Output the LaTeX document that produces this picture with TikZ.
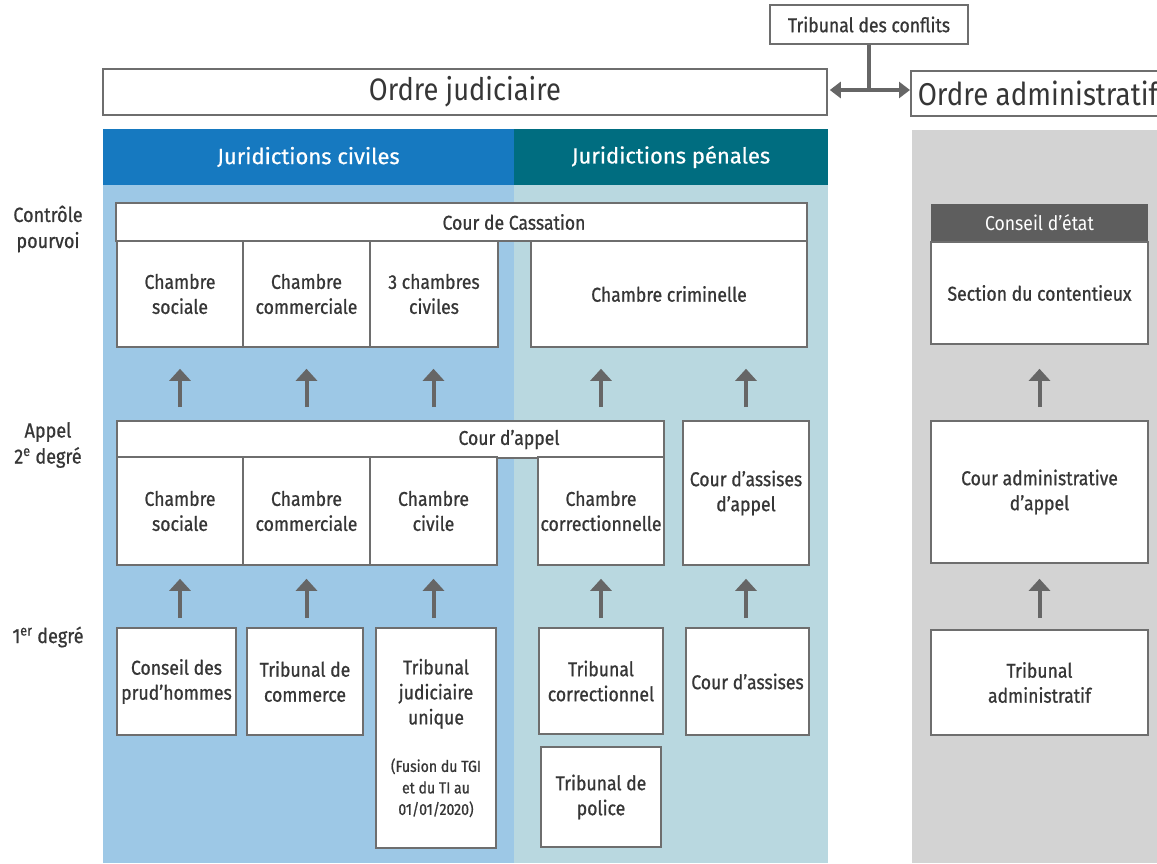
\documentclass[tikz,border=0pt]{standalone}
\usepackage{fontspec}
\setmainfont{Fira Sans}[FakeStretch=0.88, FakeBold=0.8]
\newfontfamily\plainfont{Fira Sans}[FakeStretch=0.88]
\newfontfamily\widefont{Fira Sans}[FakeBold=0.6]
\usetikzlibrary{arrows.meta}
\definecolor{civblue}{HTML}{1679C0}
\definecolor{penblue}{HTML}{006D80}
\definecolor{civbg}{HTML}{9DC8E6}
\definecolor{penbg}{HTML}{B9D8E0}
\definecolor{admbg}{HTML}{D3D3D3}
\definecolor{boxgray}{HTML}{6E6E6E}
\definecolor{arrgray}{HTML}{666666}
\definecolor{cegray}{HTML}{5E5E5E}
\definecolor{txtgray}{HTML}{363636}

\begin{document}
\begin{tikzpicture}
          [x=1pt,y=-1pt,
           box/.style={draw=boxgray, line width=1.6pt, fill=white, align=center, inner sep=0pt,
                       text=txtgray, font=\fontsize{20}{25}\selectfont},
           head/.style={fill=#1, text=white, inner sep=0pt, font=\widefont\fontsize{22}{26}\selectfont},
           side/.style={align=center, text=txtgray, font=\fontsize{20.5}{26}\selectfont},
           up1/.style={draw=arrgray, line width=4pt, -{Triangle[width=21pt,length=12pt]},
                       shorten <=13pt, shorten >=21pt},
           up2/.style={draw=arrgray, line width=4pt, -{Triangle[width=21pt,length=12pt]},
                       shorten <=9pt, shorten >=13pt},
           link/.style={draw=arrgray, line width=3.5pt}]

          \useasboundingbox (0,0) rectangle (1157,863);

          \fill[civbg] (103,185) rectangle (514,863);
          \fill[penbg] (514,185) rectangle (828,863);
          \fill[admbg] (912,130) rectangle (1157,863);

          \node[box, minimum width=198pt, minimum height=39pt] (conflits) at (869,24.5) {Tribunal des conflits};
          \node[box, minimum width=724pt, minimum height=46pt, font=\plainfont\fontsize{31}{34}\selectfont] (judic) at (465,92) {Ordre judiciaire};
          \node[box, anchor=west, minimum height=45pt, text width=250pt, align=flush left, inner xsep=7pt,
                font=\plainfont\fontsize{31.5}{34}\selectfont] (admin) at (910,93.5) {Ordre administratif};

          \node[head=civblue, minimum width=411pt, minimum height=56pt] (hciv) at (308.5,157) {Juridictions civiles};
          \node[head=penblue, minimum width=314pt, minimum height=56pt] (hpen) at (671,157) {Juridictions pénales};

          \node[side] (lctrl) at (48,229) {Contrôle\\pourvoi};
          \node[side] (lappel) at (48,445) {Appel\\2\textsuperscript{e} degré};
          \node[side] (lpremier) at (48,637) {1\textsuperscript{er} degré};

          \node[box, minimum width=691pt, minimum height=38pt,
                label={[text=txtgray, xshift=52.5pt, font=\fontsize{20}{25}\selectfont]center:Cour de Cassation}] (cass) at (461.5,222) {};
          \node[box, minimum width=126pt, minimum height=106pt] (csC) at (180,294) {Chambre\\sociale};
          \node[box, minimum width=127pt, minimum height=106pt] (ccC) at (306.5,294) {Chambre\\commerciale};
          \node[box, minimum width=128pt, minimum height=106pt] (civC) at (434,294) {3 chambres\\civiles};
          \node[box, minimum width=276pt, minimum height=106pt] (crimC) at (669,294) {Chambre criminelle};

          \node[box, minimum width=547pt, minimum height=37pt,
                label={[text=txtgray, xshift=118.5pt, font=\fontsize{20}{25}\selectfont]center:Cour d’appel}] (cappel) at (390.5,439.5) {};
          \node[box, minimum width=126pt, minimum height=108pt] (csA) at (180,511) {Chambre\\sociale};
          \node[box, minimum width=127pt, minimum height=108pt] (ccA) at (306.5,511) {Chambre\\commerciale};
          \node[box, minimum width=127pt, minimum height=108pt] (civA) at (433.5,511) {Chambre\\civile};
          \node[box, minimum width=126pt, minimum height=108pt] (corrA) at (601,511) {Chambre\\correctionnelle};
          \node[box, minimum width=126pt, minimum height=144pt] (assA) at (746,493) {Cour d’assises\\d’appel};

          \node[box, minimum width=119pt, minimum height=107pt] (cph) at (176.5,681.5) {Conseil des\\prud’hommes};
          \node[box, minimum width=116pt, minimum height=107pt] (tcom) at (305,681.5) {Tribunal de\\commerce};
          \node[box, minimum width=120pt, minimum height=220pt, text width=116pt, align=flush center] (tju) at (436,738)
                {{\fontsize{20}{25}\selectfont Tribunal\\judiciaire\\unique\par}
                 \vspace{26pt}
                 {\fontsize{16}{21.5}\selectfont (Fusion du TGI\\et du TI au\\01/01/2020)\par}};
          \node[box, minimum width=124pt, minimum height=106pt] (tcorr) at (601,681) {Tribunal\\correctionnel};
          \node[box, minimum width=123pt, minimum height=107pt] (assises) at (747.5,681.5) {Cour d’assises};
          \node[box, minimum width=120pt, minimum height=100pt] (tpol) at (601,797) {Tribunal de\\police};

          \node[head=cegray, minimum width=217pt, minimum height=38pt, font=\plainfont\fontsize{20}{22}\selectfont] (ce) at (1039.5,223) {Conseil d’état};
          \node[box, minimum width=217pt, minimum height=102pt] (secc) at (1039.5,293) {Section du contentieux};
          \node[box, minimum width=217pt, minimum height=142pt] (caa) at (1039.5,492) {Cour administrative\\d’appel};
          \node[box, minimum width=217pt, minimum height=105pt] (ta) at (1039.5,682.5) {Tribunal\\administratif};

          \draw[link] (conflits.south) -- (conflits.south |- 0,90);
          \draw[link, {Triangle[width=16pt,length=11pt]}-{Triangle[width=16pt,length=11pt]}, shorten <=2pt]
                (judic.east |- 0,90) -- (admin.west |- 0,90);

          \draw[up1] (csA |- cappel.north) -- (csC.south);
          \draw[up1] (ccA |- cappel.north) -- (ccC.south);
          \draw[up1] (civA |- cappel.north) -- (civA |- civC.south);
          \draw[up1] (corrA |- cappel.north) -- (corrA |- crimC.south);
          \draw[up1] (assA.north) -- (assA |- crimC.south);
          \draw[up1, shorten >=24pt] (caa.north) -- (secc.south);

          \draw[up2] (csA |- cph.north) -- (csA.south);
          \draw[up2] (ccA |- tcom.north) -- (ccA.south);
          \draw[up2] (civA |- tju.north) -- (civA.south);
          \draw[up2] (corrA |- tcorr.north) -- (corrA.south);
          \draw[up2] (assA |- assises.north) -- (assA.south);
          \draw[up2, shorten <=11pt, shorten >=15pt] (ta.north) -- (caa.south);

        \end{tikzpicture}
\end{document}
